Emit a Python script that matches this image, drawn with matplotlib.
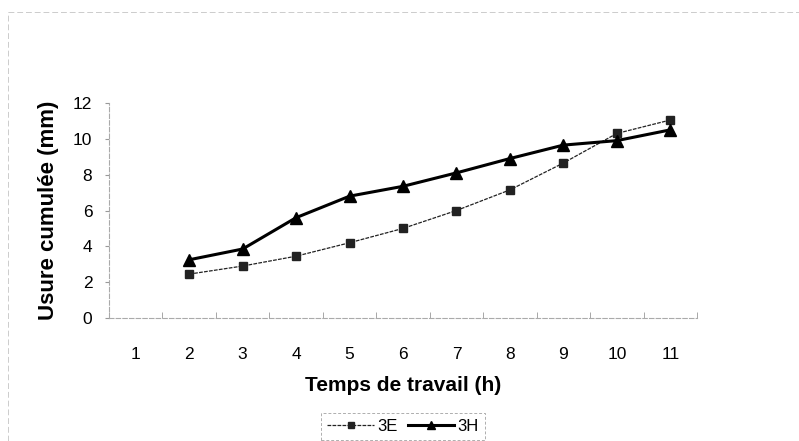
import numpy as np
import matplotlib
matplotlib.use("Agg")
from matplotlib import pyplot as plt
from matplotlib.lines import Line2D

plt.rcParams['font.family'] = ['Liberation Sans', 'DejaVu Sans']

hours = [1, 2, 3, 4, 5, 6, 7, 8, 9, 10, 11]
x_3e = [2, 3, 4, 5, 6, 7, 8, 9, 10, 11]
val_3e = [2.45, 2.9, 3.45, 4.2, 5.0, 6.0, 7.15, 8.65, 10.3, 11.05]
x_3h = [2, 3, 4, 5, 6, 7, 8, 9, 10, 11]
val_3h = [3.25, 3.85, 5.6, 6.8, 7.35, 8.1, 8.9, 9.65, 9.9, 10.5]
y_ticks = [0, 2, 4, 6, 8, 10, 12]

fig = plt.figure(figsize=(7.99, 4.41), dpi=100)
ax = fig.add_axes([109 / 799, 1 - 318 / 441, 588 / 799, 215 / 441])

ax.plot(x_3e, val_3e, color='#222222', lw=0.9, ls=(0, (3, 1)), marker='s', ms=6,
        mfc='#222222', mec='#222222', label='3E')
ax.plot(x_3h, val_3h, color='black', lw=2.2, marker='^', ms=8,
        mfc='black', mec='black', label='3H')

ax.set_xlim(0.5, 11.5)
ax.set_ylim(0, 12)
ax.set_xticks(hours)
ax.set_xticks(np.arange(0.5, 12, 1), minor=True)
ax.set_yticks(y_ticks)
ax.tick_params(axis='x', which='major', length=0, pad=21, labelsize=12.5)
ax.tick_params(axis='x', which='minor', length=4, color='#999999', direction='in')
ax.tick_params(axis='y', length=3, color='#999999', labelsize=12.5, pad=9)

for s in ['top', 'right']:
    ax.spines[s].set_visible(False)
for s in ['left', 'bottom']:
    ax.spines[s].set_color('#aaaaaa')
    ax.spines[s].set_linewidth(0.8)
    ax.spines[s].set_linestyle((0, (4, 2)))

ax.set_xlabel('Temps de travail (h)', fontsize=15, fontweight='bold', labelpad=10)
ax.set_ylabel('Usure cumulée (mm)', fontsize=16, fontweight='bold', labelpad=10)

leg = fig.legend(loc='upper center', bbox_to_anchor=(403 / 799, 1 - 405 / 441), ncol=2,
                 frameon=True, fancybox=False, fontsize=12, handlelength=2.8,
                 columnspacing=0.6, handletextpad=0.2, borderpad=0.35, markerscale=0.8)
leg.get_frame().set_edgecolor('#999999')
leg.get_frame().set_linestyle((0, (3, 2)))
leg.get_frame().set_linewidth(0.7)

# faint frame of the chart area (scan)
fig.add_artist(Line2D([8 / 799, 1], [1 - 12 / 441, 1 - 12 / 441], color='#cccccc', lw=0.7,
                      ls=(0, (6, 3))))
fig.add_artist(Line2D([8 / 799, 8 / 799], [0, 1 - 12 / 441], color='#cccccc', lw=0.7,
                      ls=(0, (6, 3))))

fig.savefig('out.png', dpi=100)
